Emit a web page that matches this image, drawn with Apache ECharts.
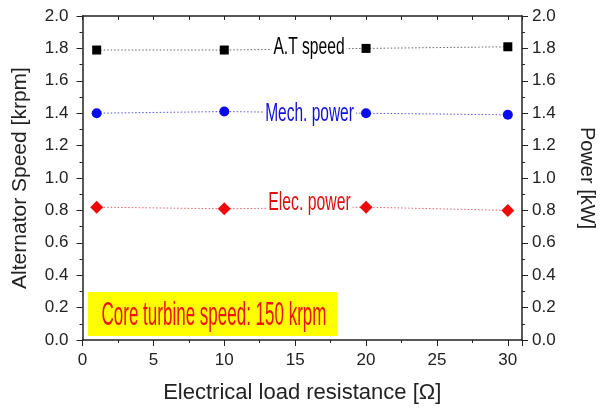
<!DOCTYPE html>
<html><head><meta charset="utf-8">
<script src="https://cdn.jsdelivr.net/npm/echarts@6/dist/echarts.min.js"></script>
<style>html,body{margin:0;padding:0;background:#fff}#c{width:605px;height:409px}</style>
</head><body><div id="c"></div>
<script>
const resistance = [1, 10, 20, 30];
const atSpeed = [1.79, 1.79, 1.80, 1.81];
const mechPower = [1.40, 1.41, 1.40, 1.39];
const elecPower = [0.82, 0.81, 0.82, 0.80];
const xTicks = [0, 5, 10, 15, 20, 25, 30];

const chart = echarts.init(document.getElementById('c'), null, {renderer: 'canvas'});
const pair = (ys) => resistance.map((x, i) => [x, ys[i]]);
const axisCol = '#222';
const font = "'Liberation Sans', Arial, sans-serif";
const tickStyle = {color: axisCol, width: 1};
chart.setOption({
  animation: false,
  backgroundColor: '#fff',
  grid: {left: 82.5, right: 74, top: 16, bottom: 67},
  xAxis: [{
    type: 'value', min: 0, max: 31, interval: 5, position: 'bottom',
    name: 'Electrical load resistance [Ω]', nameLocation: 'middle', nameGap: 42,
    nameTextStyle: {fontFamily: font, fontSize: 22, color: axisCol},
    axisLine: {show: true, onZero: false, lineStyle: {color: axisCol, width: 1.5}},
    axisTick: {show: true, inside: false, length: 6, lineStyle: tickStyle},
    axisLabel: {fontFamily: font, fontSize: 17, color: axisCol, margin: 12,
      formatter: v => xTicks.includes(v) ? String(v) : ''},
    splitLine: {show: false}
  }, {
    type: 'value', min: 0, max: 31, interval: 2.5, position: 'bottom',
    axisLine: {show: false, onZero: false},
    axisTick: {show: true, inside: false, length: 3, lineStyle: tickStyle},
    axisLabel: {show: false}, splitLine: {show: false}
  }, {
    type: 'value', min: 0, max: 31, interval: 2.5, position: 'top',
    axisLine: {show: true, onZero: false, lineStyle: {color: axisCol, width: 1.5}},
    axisTick: {show: true, inside: true, length: 4, lineStyle: tickStyle},
    axisLabel: {show: false}, splitLine: {show: false}
  }],
  yAxis: [{
    type: 'value', min: 0, max: 2, interval: 0.2, position: 'left',
    name: 'Alternator Speed [krpm]', nameLocation: 'middle', nameGap: 52,
    nameTextStyle: {fontFamily: font, fontSize: 21, color: axisCol},
    axisLine: {show: true, onZero: false, lineStyle: {color: axisCol, width: 1.5}},
    axisTick: {show: true, inside: false, length: 6, lineStyle: tickStyle},
    minorTick: {show: true, splitNumber: 2, length: 3, lineStyle: tickStyle},
    axisLabel: {fontFamily: font, fontSize: 17, color: axisCol, margin: 14,
      formatter: v => v.toFixed(1)},
    splitLine: {show: false}
  }, {
    type: 'value', min: 0, max: 2, interval: 0.2, position: 'right',
    name: 'Power [kW]', nameLocation: 'middle', nameGap: 55, nameRotate: -90,
    nameTextStyle: {fontFamily: font, fontSize: 20, color: axisCol},
    axisLine: {show: true, onZero: false, lineStyle: {color: axisCol, width: 1.5}},
    axisTick: {show: true, inside: false, length: 6, lineStyle: tickStyle},
    minorTick: {show: true, splitNumber: 2, length: 3, lineStyle: tickStyle},
    axisLabel: {fontFamily: font, fontSize: 17, color: axisCol, margin: 10,
      formatter: v => v.toFixed(1)},
    splitLine: {show: false}
  }],
  series: [{
    name: 'A.T speed', type: 'line', xAxisIndex: 0, yAxisIndex: 0, data: pair(atSpeed),
    symbol: 'rect', symbolSize: 9, itemStyle: {color: '#000'},
    lineStyle: {color: '#666', width: 1, type: [1.5, 2]}
  }, {
    name: 'Mech. power', type: 'line', xAxisIndex: 0, yAxisIndex: 1, data: pair(mechPower),
    symbol: 'circle', symbolSize: 10, itemStyle: {color: '#0a0aee'},
    lineStyle: {color: '#5555dd', width: 1, type: [1.5, 2]}
  }, {
    name: 'Elec. power', type: 'line', xAxisIndex: 0, yAxisIndex: 1, data: pair(elecPower),
    symbol: 'diamond', symbolSize: 13, itemStyle: {color: '#ee0a0a'},
    lineStyle: {color: '#e06070', width: 1, type: [1.5, 2]}
  }],
  graphic: [
    {type: 'text', x: 309, y: 47, scaleX: 0.65, z: 100, style: {text: 'A.T speed', font: '24px ' + font, align: 'center', verticalAlign: 'middle', fill: '#000', backgroundColor: '#fff', padding: [0, 3]}},
    {type: 'text', x: 309.5, y: 114, scaleX: 0.62, z: 100, style: {text: 'Mech. power', font: '25px ' + font, align: 'center', verticalAlign: 'middle', fill: '#1010dd', backgroundColor: '#fff', padding: [0, 3]}},
    {type: 'text', x: 309.5, y: 203, scaleX: 0.63, z: 100, style: {text: 'Elec. power', font: '25px ' + font, align: 'center', verticalAlign: 'middle', fill: '#dd1010', backgroundColor: '#fff', padding: [0, 3]}},
    {type: 'rect', x: 88, y: 292, z: 90, shape: {width: 249, height: 44}, style: {fill: '#ffff00'}},
    {type: 'text', x: 214, y: 316, scaleX: 0.5, z: 100, style: {text: 'Core turbine speed: 150 krpm', font: '34px ' + font, align: 'center', verticalAlign: 'middle', fill: '#ee1111'}}
  ]
});
</script></body></html>
